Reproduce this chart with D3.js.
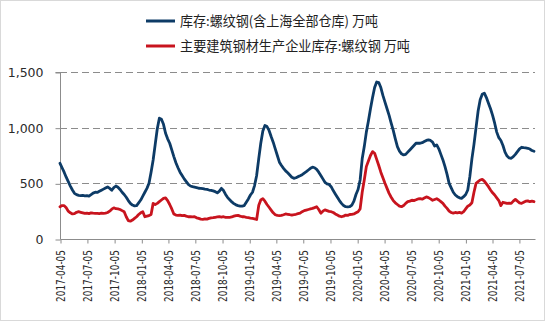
<!DOCTYPE html>
<html>
<head>
<meta charset="utf-8">
<script src="https://cdn.jsdelivr.net/npm/d3@7"></script>
<style>
  html, body { margin: 0; padding: 0; background: #fff; }
  svg { display: block; }
</style>
</head>
<body>
<svg id="chart" width="550" height="325"></svg>
<script>
// ---- Data (weekly, starting 2017-04-05) ----
const startDate = "2017-04-05";
const seriesNames = ["库存:螺纹钢(含上海全部仓库) 万吨", "主要建筑钢材生产企业库存:螺纹钢 万吨"];
const socialStock = [
  680,640,600,555,515,475,440,410,398,392,390,392,388,390,385,398,412,420,418,428,
  438,448,458,468,455,438,462,476,465,445,420,400,375,345,320,305,298,300,325,350,
  385,420,455,500,600,710,850,990,1085,1075,1030,950,900,860,800,740,685,640,600,570,
  540,515,490,476,470,466,462,456,455,452,448,445,440,437,432,425,415,430,455,435,
  400,372,352,333,318,307,300,296,296,300,330,360,395,420,480,570,720,860,970,1020,
  1010,975,920,870,810,750,690,660,635,612,595,575,555,545,550,560,568,578,592,605,
  620,635,645,640,625,600,570,540,510,495,490,470,435,405,375,345,320,300,290,288,
  290,305,340,400,445,530,720,830,960,1060,1170,1270,1360,1410,1405,1360,1290,1230,1170,1110,
  1040,975,900,830,790,765,755,760,780,800,820,840,860,862,860,865,875,885,890,885,
  870,835,845,810,760,710,650,580,500,460,420,395,380,370,365,380,400,440,560,720,
  850,1000,1150,1250,1300,1310,1270,1220,1170,1110,1040,960,910,885,840,780,745,728,725,740,
  760,785,810,824,820,818,815,808,795,788
];
const millStock = [
  290,300,300,280,250,235,225,228,240,245,240,235,230,232,228,235,232,230,230,228,
  232,230,232,238,250,268,280,272,270,265,255,245,200,165,160,170,185,200,220,235,
  245,200,205,210,220,320,310,320,335,350,365,370,345,310,270,225,215,212,215,210,
  212,205,200,200,198,200,190,185,178,177,180,178,185,190,192,195,198,200,196,200,
  195,195,195,198,205,210,212,205,200,200,195,192,188,185,180,175,300,350,362,340,
  310,285,260,235,218,212,210,212,218,225,222,218,215,218,222,228,232,245,255,260,
  265,270,275,282,290,265,232,250,262,255,248,245,238,225,215,205,200,205,215,212,
  220,222,225,235,245,270,420,530,650,700,750,785,770,715,660,600,550,500,455,410,
  375,345,325,310,295,290,300,320,335,340,348,345,352,360,362,358,368,378,372,360,
  348,355,362,350,335,320,295,275,250,238,232,238,235,240,232,245,270,295,305,325,
  420,500,515,530,536,520,495,470,440,415,395,370,345,300,330,325,320,322,320,340,
  356,340,325,320,330,340,342,335,340,335
];
const yTicks = [0, 500, 1000, 1500];
const tickLabels = [
  "2017-04-05","2017-07-05","2017-10-05","2018-01-05","2018-04-05","2018-07-05",
  "2018-10-05","2019-01-05","2019-04-05","2019-07-05","2019-10-05","2020-01-05",
  "2020-04-05","2020-07-05","2020-10-05","2021-01-05","2021-04-05","2021-07-05"
];
const colors = ["#0d3b66", "#c8141e"];

// ---- Chart ----
(function draw() {
  const parse = d3.utcParse("%Y-%m-%d");
  const t0 = parse(startDate);
  const dates = socialStock.map((_, i) => d3.utcDay.offset(t0, 7 * i));

  const svg = d3.select("#chart");
  const pL = 60, pR = 534, pT = 72, pB = 239;

  svg.append("rect").attr("x", 0.5).attr("y", 0.5).attr("width", 544).attr("height", 320)
    .attr("fill", "#fff").attr("stroke", "#d9d9d9");

  const x = d3.scaleUtc().domain([dates[0], dates[dates.length - 1]]).range([pL, pR]);
  const y = d3.scaleLinear().domain([0, 1500]).range([pB, pT]);

  // gridlines
  svg.append("g").selectAll("line").data(yTicks.filter(d => d > 0)).join("line")
    .attr("x1", pL).attr("x2", pR + 1)
    .attr("y1", d => Math.round(y(d)) + 0.5).attr("y2", d => Math.round(y(d)) + 0.5)
    .attr("stroke", "#8c8c8c").attr("stroke-width", 1).attr("stroke-dasharray", "7,4");

  // y axis
  const yAxis = d3.axisLeft(y).tickValues(yTicks).tickSize(5).tickPadding(12)
    .tickFormat(d3.format(","));
  const gy = svg.append("g").attr("transform", `translate(${pL + 0.5},0.5)`).call(yAxis);
  gy.select(".domain").attr("stroke", "#8c8c8c").attr("d", `M-5,${y(1500)}H0V${y(0)}`);
  gy.selectAll(".tick line").attr("stroke", "#8c8c8c");
  gy.selectAll(".tick text").attr("fill", "#2b2b2b").style("font-family", "'DejaVu Sans', sans-serif")
    .style("font-size", "12.5px");

  // x axis
  const xAxis = d3.axisBottom(x).tickValues(tickLabels.map(parse)).tickSize(4).tickFormat("");
  const gx = svg.append("g").attr("transform", `translate(0.5,${pB + 0.5})`).call(xAxis);
  gx.select(".domain").attr("stroke", "#8c8c8c").attr("d", `M${pL},0H${pR + 1}`);
  gx.selectAll(".tick line").attr("stroke", "#8c8c8c");

  svg.append("g").selectAll("text").data(tickLabels).join("text")
    .attr("transform", d => `translate(${x(parse(d)) + 4.8},${pB + 11}) rotate(-90)`)
    .attr("text-anchor", "end")
    .attr("textLength", 52).attr("lengthAdjust", "spacingAndGlyphs")
    .attr("fill", "#2b2b2b").style("font-family", "'DejaVu Sans', sans-serif").style("font-size", "12.5px")
    .text(d => d);

  // lines
  const line = d3.line().x((d, i) => x(dates[i])).y(d => y(d)).curve(d3.curveLinear);
  [millStock, socialStock].forEach((s, k) => {
    svg.append("path").datum(s).attr("d", line).attr("fill", "none")
      .attr("stroke", k === 0 ? colors[1] : colors[0]).attr("stroke-width", 2.8)
      .attr("stroke-linejoin", "round").attr("stroke-linecap", "round");
  });

  // legend
  const legendY = [21, 46];
  const legendW = [198, 230];
  seriesNames.forEach((name, i) => {
    svg.append("line").attr("x1", 146).attr("x2", 175).attr("y1", legendY[i]).attr("y2", legendY[i])
      .attr("stroke", colors[i]).attr("stroke-width", 3);
    svg.append("text").attr("x", 180).attr("y", legendY[i] + 5)
      .attr("textLength", legendW[i]).attr("lengthAdjust", "spacingAndGlyphs")
      .attr("fill", "#222").style("font-family", "'Noto Sans CJK SC', sans-serif").style("font-size", "13.5px")
      .text(name);
  });
})();
</script>
</body>
</html>
